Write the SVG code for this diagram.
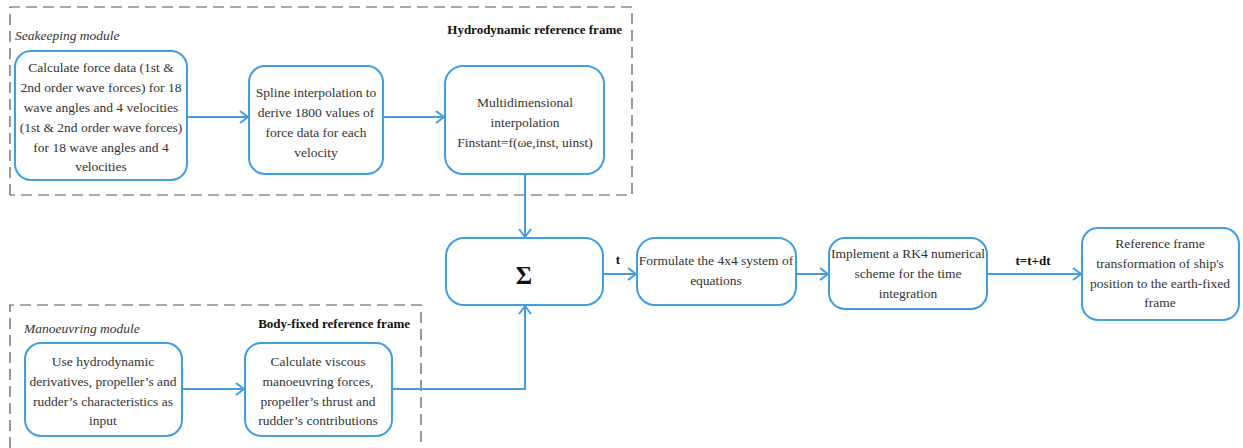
<svg xmlns="http://www.w3.org/2000/svg" width="1243" height="448" viewBox="0 0 1243 448" font-family="Liberation Serif, Times New Roman, serif">
<defs>
<style>
.frame{fill:none;stroke:#555;stroke-width:1.2;stroke-dasharray:11 6}
.node{fill:#fff;stroke:#3f9fe0;stroke-width:2}
.con{fill:none;stroke:#3f9fe0;stroke-width:2}
.t{font-size:13.5px;fill:#333;text-anchor:middle}
.it{font-size:13.5px;font-style:italic;fill:#333}
.b{font-size:13px;font-weight:bold;fill:#111}
</style>
<marker id="ah" viewBox="0 0 10 14" refX="9" refY="7" markerWidth="10" markerHeight="14" markerUnits="userSpaceOnUse" orient="auto">
<path d="M1,1 L9,7 L1,13" fill="none" stroke="#3f9fe0" stroke-width="2"/>
</marker>
</defs>
<rect width="1243" height="448" fill="#fff"/>
<g id="frames">
<path class="frame" d="M10,195 V7 H632 V195 H10"/>
<path class="frame" d="M10,448 V305 H421 V448"/>
<text class="it" x="15" y="40">Seakeeping module</text>
<text class="b" x="622" y="34" text-anchor="end">Hydrodynamic reference frame</text>
<text class="it" x="24" y="333">Manoeuvring module</text>
<text class="b" x="410" y="328" text-anchor="end">Body-fixed reference frame</text>
</g>
<g id="connectors">
<line class="con" x1="187" y1="117" x2="248" y2="117" marker-end="url(#ah)"/>
<line class="con" x1="383" y1="117" x2="444" y2="117" marker-end="url(#ah)"/>
<line class="con" x1="525" y1="174" x2="525" y2="237" marker-end="url(#ah)"/>
<polyline class="con" points="392,389 525,389 525,306" marker-end="url(#ah)"/>
<line class="con" x1="182" y1="389" x2="244" y2="389" marker-end="url(#ah)"/>
<line class="con" x1="603" y1="274" x2="636" y2="274" marker-end="url(#ah)"/>
<line class="con" x1="796" y1="274" x2="828" y2="274" marker-end="url(#ah)"/>
<line class="con" x1="987" y1="274" x2="1081" y2="274" marker-end="url(#ah)"/>
<text class="b" x="618" y="264" text-anchor="middle">t</text>
<text class="b" x="1033" y="265" text-anchor="middle">t=t+dt</text>
</g>
<g id="calc-force">
<rect class="node" x="15" y="51" width="172" height="129" rx="16"/>
<text class="t" x="101" y="72">Calculate force data (1st &amp;</text>
<text class="t" x="101" y="92">2nd order wave forces) for 18</text>
<text class="t" x="101" y="112">wave angles and 4 velocities</text>
<text class="t" x="101" y="132">(1st &amp; 2nd order wave forces)</text>
<text class="t" x="101" y="152">for 18 wave angles and 4</text>
<text class="t" x="101" y="171">velocities</text>
</g>
<g id="spline">
<rect class="node" x="249" y="66" width="134" height="108" rx="16"/>
<text class="t" x="316" y="97">Spline interpolation to</text>
<text class="t" x="316" y="117">derive 1800 values of</text>
<text class="t" x="316" y="137">force data for each</text>
<text class="t" x="316" y="157">velocity</text>
</g>
<g id="multidim">
<rect class="node" x="445" y="66" width="159" height="108" rx="18"/>
<text class="t" x="525" y="107">Multidimensional</text>
<text class="t" x="525" y="127">interpolation</text>
<text class="t" x="525" y="147">Finstant=f(ωe,inst, uinst)</text>
</g>
<g id="sigma">
<rect class="node" x="446" y="238" width="157" height="67" rx="18"/>
<text x="524" y="284" text-anchor="middle" font-size="25" font-weight="bold" fill="#111">Σ</text>
</g>
<g id="formulate">
<rect class="node" x="637" y="238" width="159" height="67" rx="18"/>
<text class="t" x="716" y="265">Formulate the 4x4 system of</text>
<text class="t" x="716" y="285">equations</text>
</g>
<g id="rk4">
<rect class="node" x="829" y="238" width="158" height="71" rx="16"/>
<text class="t" x="908" y="258">Implement a RK4 numerical</text>
<text class="t" x="908" y="278">scheme for the time</text>
<text class="t" x="908" y="298">integration</text>
</g>
<g id="transform">
<rect class="node" x="1082" y="228" width="157" height="92" rx="16"/>
<text class="t" x="1160" y="248">Reference frame</text>
<text class="t" x="1160" y="268">transformation of ship's</text>
<text class="t" x="1160" y="288">position to the earth-fixed</text>
<text class="t" x="1160" y="307">frame</text>
</g>
<g id="hydro-derivs">
<rect class="node" x="25" y="343" width="157" height="93" rx="16"/>
<text class="t" x="103" y="366">Use hydrodynamic</text>
<text class="t" x="103" y="386">derivatives, propeller’s and</text>
<text class="t" x="103" y="406">rudder’s characteristics as</text>
<text class="t" x="103" y="425">input</text>
</g>
<g id="viscous">
<rect class="node" x="245" y="343" width="147" height="93" rx="16"/>
<text class="t" x="318" y="366">Calculate viscous</text>
<text class="t" x="318" y="386">manoeuvring forces,</text>
<text class="t" x="318" y="406">propeller’s thrust and</text>
<text class="t" x="318" y="425">rudder’s contributions</text>
</g>
</svg>
